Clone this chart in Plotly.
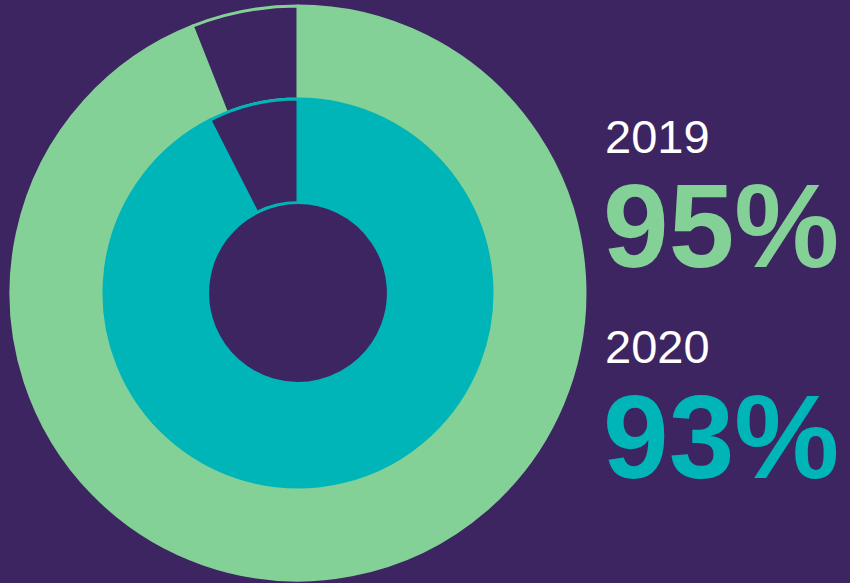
import plotly.graph_objects as go

# Data
years = ["2019", "2020"]
share_labels = ["95%", "93%"]
ring_2019 = [94, 6]      # filled, gap (as drawn)
ring_2020 = [92.5, 7.5]  # filled, gap (as drawn)
slice_names = ["yes", "no"]

BG = "#3D2562"
GREEN = "#84D197"
TEAL = "#00B5B8"

fig = go.Figure()

fig.add_trace(go.Pie(
    labels=slice_names, values=ring_2019, sort=False, direction="clockwise",
    rotation=0, hole=0.676, textinfo="none", hoverinfo="label+value",
    marker=dict(colors=[GREEN, BG], line=dict(color=GREEN, width=3)),
    domain=dict(x=[0.01294, 0.6882], y=[0.00515, 0.98971]),
    showlegend=False,
))

fig.add_trace(go.Pie(
    labels=slice_names, values=ring_2020, sort=False, direction="clockwise",
    rotation=0, hole=0.466, textinfo="none", hoverinfo="label+value",
    marker=dict(colors=[TEAL, BG], line=dict(color=TEAL, width=3)),
    domain=dict(x=[0.12235, 0.57882], y=[0.16467, 0.83019]),
    showlegend=False,
))

ann = []
ys_year = [0.766, 0.4065]
ys_val = [0.6115, 0.2496]
colors = [GREEN, TEAL]
for i in range(2):
    ann.append(dict(text=years[i], x=0.709, y=ys_year[i], xref="paper", yref="paper",
                    xanchor="left", yanchor="middle", showarrow=False,
                    font=dict(family="Liberation Sans, Arial, sans-serif", size=47,
                              color="white")))
    ann.append(dict(text="<b>" + share_labels[i] + "</b>", x=0.707, y=ys_val[i],
                    xref="paper", yref="paper", xanchor="left", yanchor="middle",
                    showarrow=False,
                    font=dict(family="Liberation Sans, Arial, sans-serif", size=118,
                              color=colors[i])))

fig.update_layout(
    width=850, height=583, margin=dict(l=0, r=0, t=0, b=0),
    paper_bgcolor=BG, plot_bgcolor=BG, annotations=ann,
)

fig.write_html("out.html", config={"displayModeBar": False},
               post_script="document.body.style.margin='0';document.body.style.background='#3D2562';")
